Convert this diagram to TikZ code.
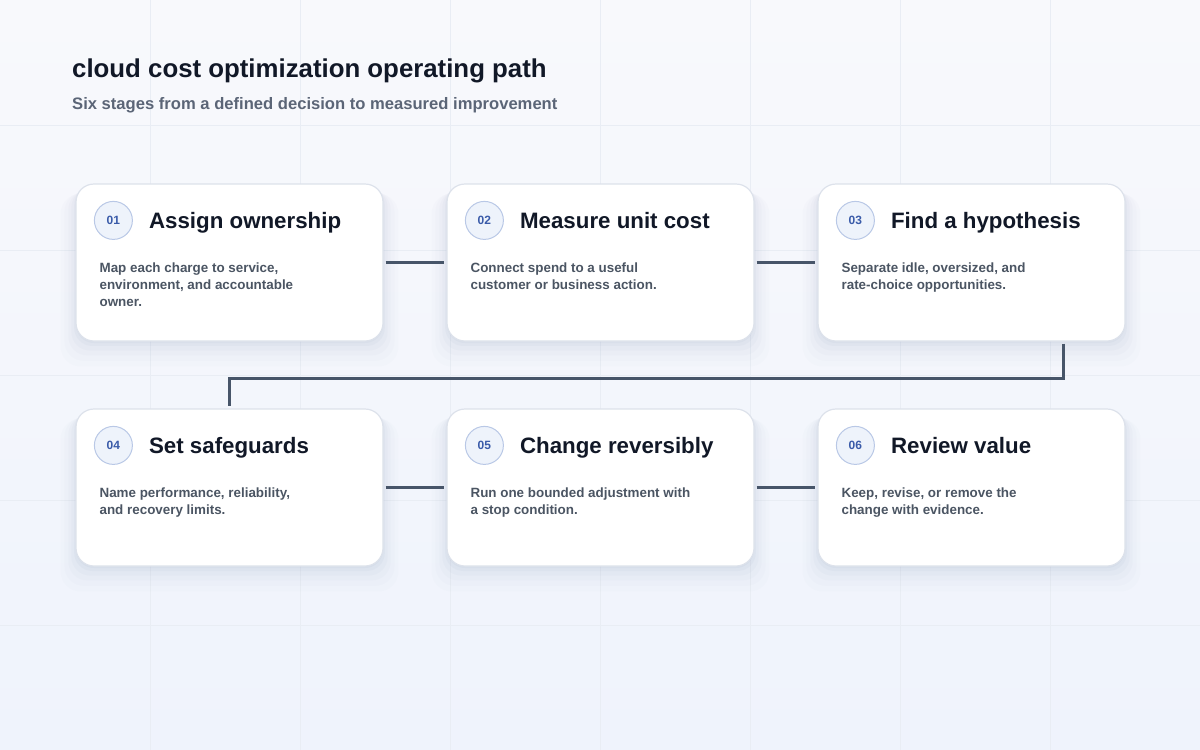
\documentclass[tikz,border=0pt]{standalone}
\usepackage{fontspec}
\setmainfont{Liberation Sans}
\usetikzlibrary{positioning,calc,shadows}

\definecolor{bgtop}{HTML}{F8F9FC}
\definecolor{bgbot}{HTML}{EFF3FC}
\definecolor{gridc}{HTML}{E9EDF4}
\definecolor{ink}{HTML}{111827}
\definecolor{subink}{HTML}{5B6577}
\definecolor{bodyink}{HTML}{4B5563}
\definecolor{cardline}{HTML}{DDE2EB}
\definecolor{shadowc}{HTML}{7F90B5}
\definecolor{numfill}{HTML}{EEF3FB}
\definecolor{numline}{HTML}{B9C8E6}
\definecolor{numink}{HTML}{3A5BA9}
\definecolor{linkc}{HTML}{475569}

\begin{document}
\begin{tikzpicture} [x = 1pt, y = -1pt, node distance = 371pt,
    card/.style = {draw = cardline, line width = 1.2pt, fill = white, rounded corners = 18pt,
        minimum width = 307pt, minimum height = 157pt,
        general shadow = {fill = shadowc, opacity = .02, shadow yshift = -16pt, shadow scale = 1.1},
        general shadow = {fill = shadowc, opacity = .025, shadow yshift = -13pt, shadow scale = 1.075},
        general shadow = {fill = shadowc, opacity = .03, shadow yshift = -10pt, shadow scale = 1.05},
        general shadow = {fill = shadowc, opacity = .04, shadow yshift = -7pt, shadow scale = 1.03},
        general shadow = {fill = shadowc, opacity = .05, shadow yshift = -4pt, shadow scale = 1.012},
        general shadow = {fill = shadowc, opacity = .06, shadow yshift = -2pt}},
    num/.style = {draw = numline, line width = 1pt, fill = numfill, circle, minimum size = 38pt,
        inner sep = 0pt, text = numink, font = \bfseries\fontsize{12}{14}\selectfont},
    head/.style = {anchor = base west, inner sep = 0pt, text = ink, font = \bfseries\fontsize{22.3}{26}\selectfont},
    body/.style = {anchor = north west, inner sep = 0pt, align = left, text = bodyink,
        font = \bfseries\fontsize{13.4}{17}\selectfont},
    link/.style = {draw = linkc, line width = 3.5pt, shorten >= 2pt, shorten <= 2pt}]

        % page and faint grid
        \useasboundingbox (0,0) rectangle (1200,750);
        \fill [top color = bgtop, bottom color = bgbot] (0,0) rectangle (1200,750);
        \foreach \gx in {150,300,...,1050} \draw [gridc, line width = 1pt] (\gx,0) -- (\gx,750);
        \foreach \gy in {125,250,...,625} \draw [gridc, line width = 1pt] (0,\gy) -- (1200,\gy);

        \node [anchor = base west, inner sep = 0pt, text = ink, font = \bfseries\fontsize{25.8}{30}\selectfont]
            (title) at (72,77) {cloud cost optimization operating path};
        \node [anchor = base west, inner sep = 0pt, text = subink, font = \bfseries\fontsize{16.6}{19}\selectfont]
            (subtitle) at (72,109) {Six stages from a defined decision to measured improvement};

        \node [card] (s1) at (229.5,262.5) {};
        \node [card] (s2) [right of = s1] {};
        \node [card] (s3) [right of = s2] {};
        \node [card] (s4) [below of = s1, node distance = 225pt] {};
        \node [card] (s5) [right of = s4] {};
        \node [card] (s6) [right of = s5] {};

        \node [num] (n1) at ($(s1.north west)+(38,37)$) {01};
        \node [num] (n2) at ($(s2.north west)+(38,37)$) {02};
        \node [num] (n3) at ($(s3.north west)+(38,37)$) {03};
        \node [num] (n4) at ($(s4.north west)+(38,37)$) {04};
        \node [num] (n5) at ($(s5.north west)+(38,37)$) {05};
        \node [num] (n6) at ($(s6.north west)+(38,37)$) {06};

        \node [head] (t1) at ($(n1.east)+(16,8)$) {Assign ownership};
        \node [head] (t2) at ($(n2.east)+(16,8)$) {Measure unit cost};
        \node [head] (t3) at ($(n3.east)+(16,8)$) {Find a hypothesis};
        \node [head] (t4) at ($(n4.east)+(16,8)$) {Set safeguards};
        \node [head] (t5) at ($(n5.east)+(16,8)$) {Change reversibly};
        \node [head] (t6) at ($(n6.east)+(16,8)$) {Review value};

        \node [body] (b1) at ($(s1.north west)+(24,79)$) {Map each charge to service,\\environment, and accountable\\owner.};
        \node [body] (b2) at ($(s2.north west)+(24,79)$) {Connect spend to a useful\\customer or business action.};
        \node [body] (b3) at ($(s3.north west)+(24,79)$) {Separate idle, oversized, and\\rate-choice opportunities.};
        \node [body] (b4) at ($(s4.north west)+(24,79)$) {Name performance, reliability,\\and recovery limits.};
        \node [body] (b5) at ($(s5.north west)+(24,79)$) {Run one bounded adjustment with\\a stop condition.};
        \node [body] (b6) at ($(s6.north west)+(24,79)$) {Keep, revise, or remove the\\change with evidence.};

        \path [link] (s1) edge (s2);
        \path [link] (s2) edge (s3);
        \path [link] (s4) edge (s5);
        \path [link] (s5) edge (s6);

        % turn from the first row down to the second
        \coordinate (turn) at ($(s3.south east)+(-62,0)$);
        \coordinate (back) at ($(s4.north)+(0,-30)$);
        \draw [link] (turn) |- (back) -| (s4.north);

    \end{tikzpicture}
\end{document}
